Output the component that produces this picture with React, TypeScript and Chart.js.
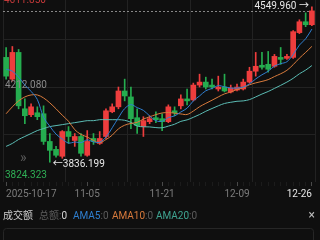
import React, { useEffect, useRef } from "react";
import { Chart, registerables } from "chart.js";

Chart.register(...registerables);

// ---- data ----
const dates = [
  "2025-10-17", "10-20", "10-21", "10-22", "10-23", "10-24",
  "10-27", "10-28", "10-29", "10-30", "10-31",
  "11-03", "11-04", "11-05", "11-06", "11-07",
  "11-10", "11-11", "11-12", "11-13", "11-14",
  "11-17", "11-18", "11-19", "11-20", "11-21",
  "11-24", "11-25", "11-26", "11-27", "11-28",
  "12-01", "12-02", "12-03", "12-04", "12-05",
  "12-08", "12-09", "12-10", "12-11", "12-12",
  "12-15", "12-16", "12-17", "12-18", "12-19",
  "12-22", "12-23", "12-24", "12-26",
];

const openP = [
  4318.1, 4218.1, 4340.9, 4081.7, 4054.5, 4063.6, 4059.0, 3931.7, 3895.3, 3863.5,
  3977.2, 3936.3, 3954.5, 3868.1, 3945.4, 3922.6, 3954.5, 4068.1, 4090.8, 4163.6,
  4136.3, 4040.8, 4000.0, 4022.6, 4040.8, 4036.3, 4022.6, 4072.6, 4095.4, 4127.2,
  4122.7, 4190.8, 4204.5, 4190.8, 4172.7, 4181.8, 4159.0, 4168.1, 4172.7, 4204.5,
  4254.5, 4281.8, 4286.3, 4277.2, 4318.1, 4313.6, 4318.1, 4431.8, 4481.8, 4468.2,
];
const highP = [
  4363.6, 4368.1, 4354.5, 4127.2, 4104.5, 4090.8, 4095.4, 3968.1, 3909.0, 3981.7,
  4000.0, 3968.1, 3968.1, 3981.7, 3968.1, 3977.2, 4081.7, 4104.5, 4181.8, 4218.1,
  4181.8, 4081.7, 4045.4, 4049.9, 4068.1, 4059.0, 4099.9, 4090.8, 4145.4, 4172.7,
  4199.9, 4240.9, 4227.2, 4218.1, 4231.8, 4240.9, 4190.8, 4195.4, 4218.1, 4272.7,
  4340.9, 4340.9, 4345.4, 4331.8, 4363.6, 4331.8, 4440.9, 4490.9, 4522.7, 4549.96,
];
const lowP = [
  4218.1, 4209.0, 4081.7, 4013.5, 4045.4, 4031.7, 3918.1, 3836.199, 3859.0, 3854.4,
  3922.6, 3909.0, 3863.5, 3863.5, 3918.1, 3918.1, 3945.4, 4063.6, 4081.7, 4118.1,
  3990.8, 3968.1, 3954.5, 4013.5, 4018.1, 3981.7, 4018.1, 4049.9, 4081.7, 4099.9,
  4118.1, 4181.8, 4172.7, 4172.7, 4163.6, 4159.0, 4154.5, 4163.6, 4168.1, 4199.9,
  4231.8, 4263.6, 4250.0, 4272.7, 4286.3, 4309.0, 4313.6, 4427.2, 4459.1, 4463.6,
];
const closeP = [
  4231.8, 4340.9, 4095.4, 4049.9, 4090.8, 4045.4, 3931.7, 3890.8, 3868.1, 3977.2,
  3954.5, 3954.5, 3877.2, 3931.7, 3931.7, 3945.4, 4072.6, 4090.8, 4163.6, 4140.8,
  4036.3, 4004.5, 4027.2, 4036.3, 4031.7, 4022.6, 4090.8, 4063.6, 4127.2, 4118.1,
  4190.8, 4204.5, 4181.8, 4181.8, 4181.8, 4163.6, 4177.2, 4181.8, 4204.5, 4254.5,
  4277.2, 4272.7, 4263.6, 4322.7, 4309.0, 4322.7, 4436.3, 4481.8, 4468.2, 4531.8,
];

const ma5 = [
  4263.6, 4254.5, 4227.2, 4190.8, 4161.7, 4124.5, 4042.6, 4001.7, 3965.4, 3942.6,
  3924.4, 3929.0, 3926.3, 3939.0, 3929.9, 3928.1, 3951.7, 3994.5, 4040.8, 4082.7,
  4100.8, 4087.2, 4074.5, 4049.0, 4027.2, 4024.5, 4041.7, 4049.0, 4067.2, 4084.5,
  4118.1, 4140.8, 4164.5, 4175.4, 4188.1, 4182.7, 4177.2, 4177.2, 4181.8, 4196.3,
  4219.0, 4238.1, 4254.5, 4278.1, 4289.0, 4298.1, 4330.9, 4374.5, 4403.6, 4448.1,
];
const ma10 = [
  4059.0, 4090.8, 4118.1, 4136.3, 4145.4, 4145.4, 4131.7, 4109.0, 4081.7, 4052.2,
  4024.5, 3985.8, 3964.0, 3952.2, 3936.3, 3926.3, 3940.4, 3960.4, 3989.9, 4006.3,
  4014.5, 4019.5, 4034.5, 4044.9, 4054.9, 4062.6, 4064.5, 4061.7, 4058.1, 4055.8,
  4071.3, 4091.3, 4106.7, 4121.3, 4136.3, 4150.4, 4159.0, 4170.8, 4178.6, 4192.2,
  4200.8, 4207.7, 4215.8, 4229.9, 4242.7, 4258.6, 4284.5, 4314.5, 4340.9, 4368.6,
];
const ma20 = [
  3909.0, 3922.6, 3940.8, 3954.5, 3968.1, 3981.7, 3990.8, 3999.9, 4004.5, 4009.0,
  4013.5, 4018.1, 4022.6, 4027.2, 4027.2, 4031.7, 4031.7, 4031.7, 4031.7, 4029.0,
  4019.5, 4002.6, 3999.0, 3998.5, 3995.4, 3994.5, 4002.2, 4010.8, 4024.0, 4030.8,
  4042.6, 4055.4, 4070.4, 4083.1, 4095.4, 4106.3, 4111.7, 4116.3, 4118.1, 4124.0,
  4136.3, 4149.5, 4161.3, 4175.4, 4189.5, 4204.5, 4221.8, 4242.7, 4259.5, 4280.4,
];

const xTickIndex = [0, 13, 25, 37, 49];
const xTickText = ["2025-10-17", "11-05", "11-21", "12-09", "12-26"];
const yLabelText = ["4611.850", "4212.080", "3824.323"];
const legendNames = ["AMA5", "AMA10", "AMA20"];
const legendValues = ["0", "0", "0"];

// ---- style ----
const BG = "#0f0f0f";
const GRID = "#222222";
const RED = "#ee3d3d";
const GREEN = "#25ad4f";
const C_MA5 = "#2f7fd0";
const C_MA10 = "#d97b3c";
const C_MA20 = "#5bbcb4";
const FONT = 'Roboto, "Noto Sans CJK SC", sans-serif';

const overlayPlugin = {
  id: "overlay",
  beforeDraw(chart: any) {
    const c = chart.ctx;
    c.save();
    c.fillStyle = BG;
    c.fillRect(0, 0, chart.width, chart.height);
    c.restore();
  },
  beforeDatasetsDraw(chart: any) {
    const c = chart.ctx;
    const { left, right } = chart.chartArea;
    const ys = chart.scales.y;
    const yy = Math.round(ys.getPixelForValue(closeP[closeP.length - 1])) + 0.5;
    c.save();
    c.setLineDash([2, 2]);
    c.strokeStyle = "rgba(200,200,200,0.65)";
    c.lineWidth = 1;
    c.beginPath();
    c.moveTo(left, yy);
    c.lineTo(right, yy);
    c.stroke();
    c.restore();
  },
  afterDraw(chart: any) {
    const c = chart.ctx;
    const { left, top, bottom } = chart.chartArea;
    const xs = chart.scales.x;
    const ys = chart.scales.y;
    c.save();
    c.font = `10px ${FONT}`;
    c.textBaseline = "alphabetic";
    c.textAlign = "left";
    // axis value labels
    c.fillStyle = "#c63a3a";
    c.fillText(yLabelText[0], left + 1, top + 3);
    c.fillStyle = "#8a8a8a";
    c.fillText(yLabelText[1], left + 2, top + 88);
    c.fillStyle = "#2fae55";
    c.fillText(yLabelText[2], left + 2, bottom - 4);

    // max / min markers
    let hi = 0;
    let lo = 0;
    highP.forEach((v, i) => { if (v > highP[hi]) hi = i; });
    lowP.forEach((v, i) => { if (v < lowP[lo]) lo = i; });
    c.fillStyle = "#e8e8e8";
    c.textBaseline = "middle";
    c.textAlign = "right";
    c.fillText(highP[hi].toFixed(3) + " \u2192", xs.getPixelForValue(hi) - 3, ys.getPixelForValue(highP[hi]));
    c.textAlign = "left";
    c.fillText("\u2190" + lowP[lo].toFixed(3), xs.getPixelForValue(lo) + 3, ys.getPixelForValue(lowP[lo]) + 2);

    // chevron
    c.fillStyle = "#5a5a5a";
    c.font = `14px ${FONT}`;
    c.fillText("\u00bb", left + 17, bottom - 24);

    // legend row
    const ly = 216;
    c.font = `10px ${FONT}`;
    c.textBaseline = "middle";
    c.textAlign = "left";
    c.fillStyle = "#cfcfcf";
    c.fillText("成交额", 3, ly);
    c.fillStyle = "#5c5c5c";
    c.fillText("总额:", 39, ly);
    c.fillStyle = "#d8d8d8";
    c.fillText("0", 39 + c.measureText("总额:").width, ly);
    const lx = [73, 112, 156];
    const lc = [C_MA5, C_MA10, "#3fa592"];
    legendNames.forEach((n, i) => {
      c.fillStyle = lc[i];
      c.fillText(n, lx[i], ly);
      c.fillStyle = "#5c5c5c";
      c.fillText(":" + legendValues[i], lx[i] + c.measureText(n).width, ly);
    });
    c.fillStyle = "#bdbdbd";
    c.font = `12px ${FONT}`;
    c.textAlign = "right";
    c.fillText("\u00d7", 315, ly);

    // lower panel frame
    c.strokeStyle = "#262626";
    c.lineWidth = 1;
    c.beginPath();
    c.roundRect(3.5, 228.5, 310, 20, 3);
    c.stroke();
    c.restore();
  },
};

export default function App() {
  const ref = useRef<HTMLCanvasElement | null>(null);

  useEffect(() => {
    document.body.style.margin = "0";
    document.body.style.background = BG;
    const canvas = ref.current;
    if (!canvas) return;
    const candleColors = openP.map((o, i) => (closeP[i] >= o ? RED : GREEN));

    const chart = new Chart(canvas, {
      type: "bar",
      data: {
        labels: dates,
        datasets: [
          {
            type: "line", label: "MA5", data: ma5, borderColor: C_MA5, borderWidth: 1,
            pointRadius: 0, tension: 0.35, order: 0, xAxisID: "x", yAxisID: "y",
          } as any,
          {
            type: "line", label: "MA10", data: ma10, borderColor: C_MA10, borderWidth: 1,
            pointRadius: 0, tension: 0.35, order: 0, xAxisID: "x", yAxisID: "y",
          } as any,
          {
            type: "line", label: "MA20", data: ma20, borderColor: C_MA20, borderWidth: 1,
            pointRadius: 0, tension: 0.35, order: 0, xAxisID: "x", yAxisID: "y",
          } as any,
          {
            type: "bar", label: "wick", data: lowP.map((l, i) => [l, highP[i]]),
            backgroundColor: candleColors, barThickness: 1, grouped: false, order: 2,
            xAxisID: "x", yAxisID: "y",
          } as any,
          {
            type: "bar", label: "body", data: openP.map((o, i) => [o, closeP[i]]),
            backgroundColor: candleColors, barThickness: 5, minBarLength: 1, grouped: false,
            order: 1, xAxisID: "x", yAxisID: "y",
          } as any,
        ],
      },
      options: {
        animation: false,
        responsive: false,
        devicePixelRatio: 1,
        layout: { padding: { left: 3, right: 5, top: 0, bottom: 38 } },
        plugins: { legend: { display: false }, tooltip: { enabled: false } },
        scales: {
          x: {
            type: "category",
            offset: true,
            border: { display: false },
            grid: {
              drawOnChartArea: false,
              drawTicks: true,
              tickLength: 4,
              offset: false,
              color: (ctx: any) => (xTickIndex.includes(ctx.index) ? "#4a4a4a" : "#1c1c1c"),
            },
            ticks: {
              autoSkip: false,
              maxRotation: 0,
              minRotation: 0,
              align: "inner",
              padding: 2,
              font: { size: 10, family: FONT },
              color: (ctx: any) => (ctx.index === dates.length - 1 ? "#e6e6e6" : "#7c7c7c"),
              callback: (_v: any, i: number) => {
                const k = xTickIndex.indexOf(i);
                return k >= 0 ? xTickText[k] : "";
              },
            },
          },
          xg: {
            type: "linear",
            position: "top",
            min: 0,
            max: 4,
            border: { display: false },
            grid: { color: GRID, drawTicks: false },
            ticks: { display: false, stepSize: 1 },
          },
          y: {
            type: "linear",
            display: false,
            min: 3745.3,
            max: 4581.8,
          },
          yg: {
            type: "linear",
            position: "left",
            min: 0,
            max: 184,
            reverse: true,
            border: { display: false },
            grid: { color: GRID, drawTicks: false },
            ticks: { display: false },
            afterBuildTicks: (s: any) => {
              s.ticks = [{ value: 40 }, { value: 88 }, { value: 136 }];
            },
          },
        } as any,
      },
      plugins: [overlayPlugin],
    });
    return () => chart.destroy();
  }, []);

  return (
    <div style={{ width: 320, height: 240, background: BG }}>
      <canvas ref={ref} width={320} height={240} style={{ display: "block" }} />
    </div>
  );
}
